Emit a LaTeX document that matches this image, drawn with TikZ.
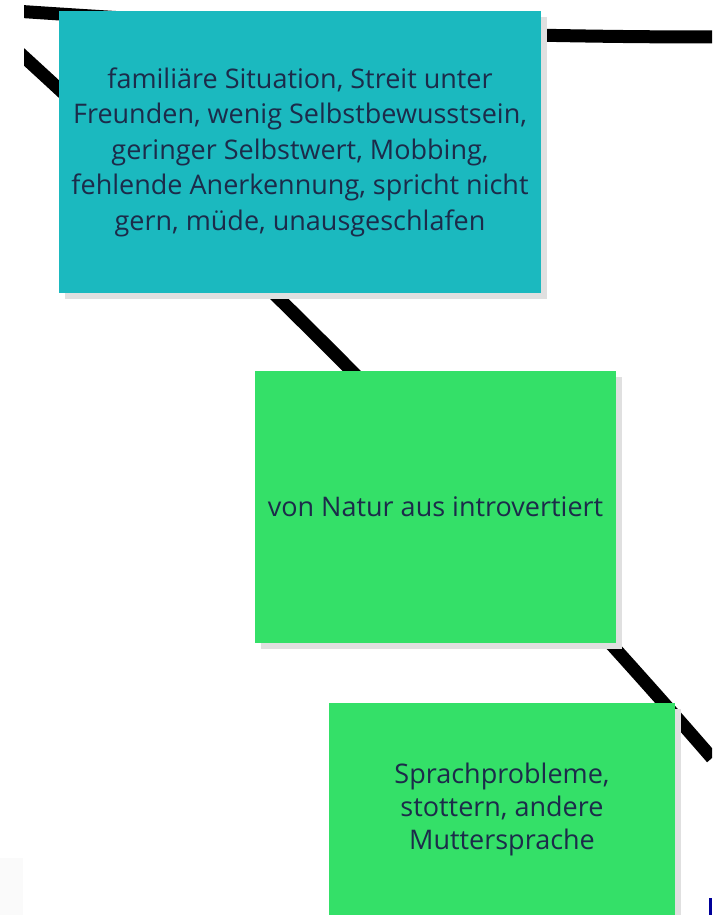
\documentclass[tikz,border=0pt]{standalone}
\usepackage{fontspec}
\setmainfont{Open Sans}
\usepackage{xcolor}
\usepackage{tikz}
\usetikzlibrary{shadows,positioning}

\definecolor{causeteal}{HTML}{1BB9BF}
\definecolor{causegreen}{HTML}{34E068}
\definecolor{causetext}{HTML}{1C2B4A}
\definecolor{shadowgray}{HTML}{E0E0E0}

\begin{document}
\begin{tikzpicture}[
        x=1pt, y=-1pt,
        cause/.style={rectangle, inner sep=0pt, align=center, text=causetext,
            font=\fontsize{27}{35.5}\selectfont,
            drop shadow={shadow xshift=6pt, shadow yshift=-6pt, fill=shadowgray, opacity=1}},
        link/.style={line width=13pt, black}
    ]
        \useasboundingbox (0,0) rectangle (712,915);
        \clip (0,0) rectangle (712,915);

        % branch lines behind the boxes
        \coordinate (top west) at (0,10);
        \coordinate (top east) at (712,37);
        \coordinate (diag west) at (0,35);
        \coordinate (diag east) at (712,758);
        \begin{scope}
            \clip (24,0) rectangle (712,915);
            \draw[link] (top west) .. controls (260,28) and (497,37) .. (top east);
            \draw[link] (diag west) .. controls (265,276) and (503,517) .. (diag east);
        \end{scope}

        \node[cause, fill=causeteal, minimum width=482pt, minimum height=282pt] (situation) at (300,152)
            {familiäre Situation, Streit unter\\Freunden, wenig Selbstbewusstsein,\\geringer Selbstwert, Mobbing,\\fehlende Anerkennung, spricht nicht\\gern, müde, unausgeschlafen};
        \node[cause, fill=causegreen, minimum width=361pt, minimum height=272pt] (nature) at (435.5,507)
            {von Natur aus introvertiert};
        \node[cause, fill=causegreen, minimum width=346pt, minimum height=212pt,
            font=\fontsize{27}{33}\selectfont] (language) at (502,809)
            {Sprachprobleme,\\stottern, andere\\Muttersprache};

        % cut-off bits at the picture edges
        \fill[black!2] (0,858) rectangle (23,915);
        \fill[blue!60!black] (709,898) rectangle (712,915);
    \end{tikzpicture}
\end{document}
